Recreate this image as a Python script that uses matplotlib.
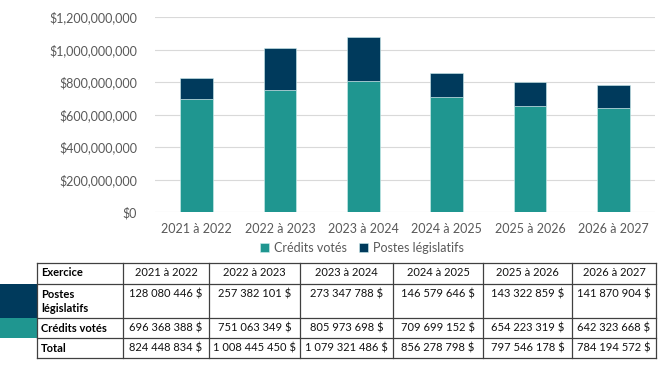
import numpy as np
import matplotlib
matplotlib.use("Agg")
import matplotlib.pyplot as plt
from matplotlib.patches import Rectangle
from matplotlib.ticker import FuncFormatter

plt.rcParams['font.family'] = ['Lato', 'DejaVu Sans']

# Data
years = ["2021 à 2022", "2022 à 2023", "2023 à 2024", "2024 à 2025", "2025 à 2026", "2026 à 2027"]
credits_votes = [696368388, 751063349, 805973698, 709699152, 654223319, 642323668]
postes_legislatifs = [128080446, 257382101, 273347788, 146579646, 143322859, 141870904]
totals = [824448834, 1008445450, 1079321486, 856278798, 797546178, 784194572]

TEAL = "#1f9690"
NAVY = "#003a5c"
GREY = "#595959"

W, H = 662, 371
fig = plt.figure(figsize=(W / 100, H / 100), dpi=100)

# chart axes in pixel coords
def px_axes(l, t, r, b):
    return fig.add_axes([l / W, 1 - b / H, (r - l) / W, (b - t) / H])

ax = px_axes(155, 17, 655, 212)
x = np.arange(len(years))
ax.bar(x, credits_votes, width=0.39, color=TEAL, label="Crédits votés",
       edgecolor="#cfeeee", linewidth=0.4, zorder=3)
ax.bar(x, postes_legislatifs, width=0.39, bottom=credits_votes, color=NAVY,
       label="Postes législatifs", edgecolor="#cfeeee", linewidth=0.4, zorder=3)
ax.set_xlim(-0.5, len(years) - 0.5)
ax.set_ylim(0, 1.2e9)
ax.set_yticks(np.arange(0, 1.2e9 + 1, 2e8))
ax.yaxis.set_major_formatter(FuncFormatter(lambda v, p: "${:,.0f}".format(v)))
ax.set_xticks(x)
ax.set_xticklabels(years)
ax.tick_params(length=0, labelsize=9, colors=GREY, pad=8)
ax.tick_params(axis="y", pad=13)
ax.grid(axis="y", color="#d9d9d9", linewidth=0.8, zorder=0)
for s in ax.spines.values():
    s.set_visible(False)

handles, labels = ax.get_legend_handles_labels()
fig.legend(handles, labels, loc="center", bbox_to_anchor=(362 / W, 1 - 248 / H),
           ncol=2, frameon=False, fontsize=9, labelcolor=GREY,
           handlelength=0.7, handleheight=0.7, handletextpad=0.4, columnspacing=1.0)

# table drawn in pixel coordinates
tb = fig.add_axes([0, 0, 1, 1])
tb.set_xlim(0, W)
tb.set_ylim(H, 0)
tb.axis("off")

cols = [37, 123, 209, 300, 393, 483, 572, 656]
rows = [263, 284, 318, 338, 358]

tb.add_patch(Rectangle((0, rows[1]), 37, rows[2] - rows[1], color=NAVY, lw=0))
tb.add_patch(Rectangle((0, rows[2]), 37, rows[3] - rows[2], color=TEAL, lw=0))

for yy in rows:
    tb.plot([cols[0], cols[-1]], [yy, yy], color="#404040", lw=0.9)
for xx in cols:
    tb.plot([xx, xx], [rows[0], rows[-1]], color="#404040", lw=0.9)

def money(v):
    return "{:,}".format(v).replace(",", " ") + " $"

row_labels = ["Exercice", "Postes", "Crédits votés", "Total"]
row_values = [years,
              [money(v) for v in postes_legislatifs],
              [money(v) for v in credits_votes],
              [money(v) for v in totals]]

for i, (lab, vals) in enumerate(zip(row_labels, row_values)):
    cy = rows[i] + 10
    tb.text(cols[0] + 4, cy, lab, ha="left", va="center", fontsize=8,
            fontweight="bold", color="black")
    for j, v in enumerate(vals):
        cx = (cols[j + 1] + cols[j + 2]) / 2
        tb.text(cx, cy, v, ha="center", va="center", fontsize=8, color="#111111")
# second line of the "Postes législatifs" label
tb.text(cols[0] + 4, rows[1] + 24, "législatifs", ha="left", va="center",
        fontsize=8, fontweight="bold", color="black")

fig.savefig("out.png", dpi=100)
